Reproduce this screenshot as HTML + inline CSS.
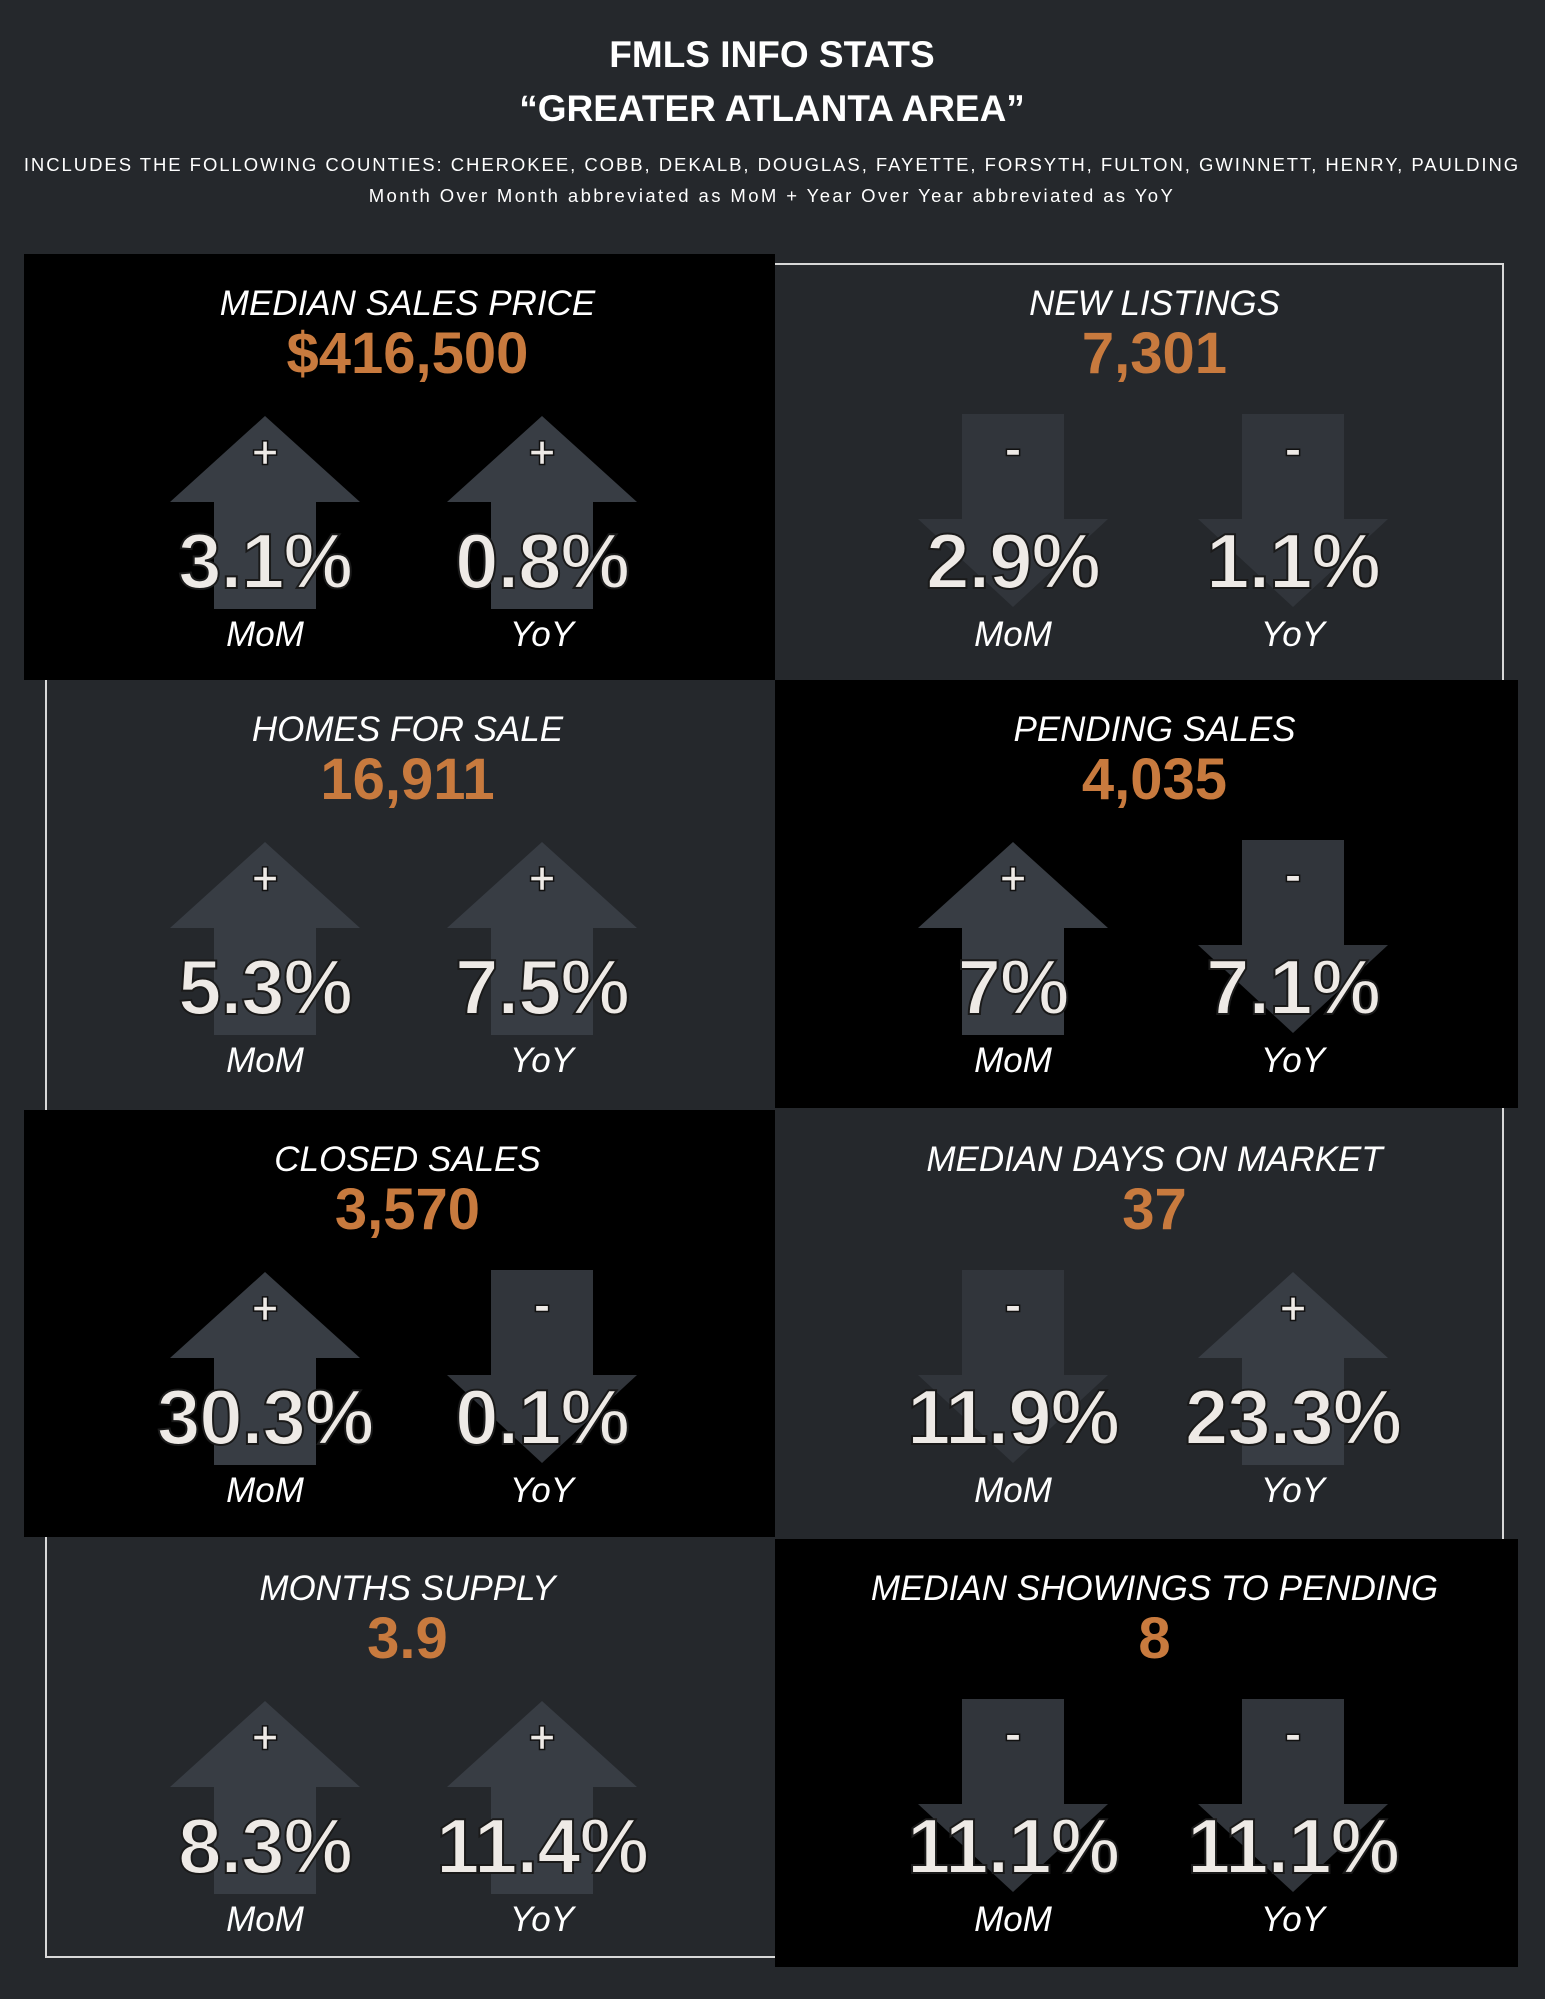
<!DOCTYPE html>
<html><head><meta charset="utf-8"><style>
html,body{margin:0;padding:0;background:#25282c;}
svg{display:block;}
</style></head><body>
<svg id="chart" width="1545" height="1999" viewBox="0 0 1545 1999" xmlns="http://www.w3.org/2000/svg" font-family="Liberation Sans, sans-serif">
<rect x="0" y="0" width="1545" height="1999" fill="#25282c"/>
<text x="772" y="67" text-anchor="middle" fill="#fff" font-weight="bold" font-size="37">FMLS INFO STATS</text>
<text x="772" y="121" text-anchor="middle" fill="#fff" font-weight="bold" font-size="37">“GREATER ATLANTA AREA”</text>
<text x="772" y="171" text-anchor="middle" fill="#fff" font-size="18.5" letter-spacing="1.95">INCLUDES THE FOLLOWING COUNTIES: CHEROKEE, COBB, DEKALB, DOUGLAS, FAYETTE, FORSYTH, FULTON, GWINNETT, HENRY, PAULDING</text>
<text x="772" y="202" text-anchor="middle" fill="#fff" font-size="18.5" letter-spacing="2.4">Month Over Month abbreviated as MoM + Year Over Year abbreviated as YoY</text>
<rect x="46" y="264" width="1457" height="1693" fill="none" stroke="#d8d8d8" stroke-width="2"/>
<g id="panels"></g>
</svg>
<script>
const titles = ["MEDIAN SALES PRICE","NEW LISTINGS","HOMES FOR SALE","PENDING SALES","CLOSED SALES","MEDIAN DAYS ON MARKET","MONTHS SUPPLY","MEDIAN SHOWINGS TO PENDING"];
const values = ["$416,500","7,301","16,911","4,035","3,570","37","3.9","8"];
const momDir = ["up","down","up","up","up","down","up","down"];
const momPct = ["3.1%","2.9%","5.3%","7%","30.3%","11.9%","8.3%","11.1%"];
const yoyDir = ["up","down","up","down","down","up","up","down"];
const yoyPct = ["0.8%","1.1%","7.5%","7.1%","0.1%","23.3%","11.4%","11.1%"];
const blackPanel = [true,false,false,true,true,false,false,true];

const NS="http://www.w3.org/2000/svg";
const g=document.getElementById('panels');
const rowTop=[254,680,1110,1539], rowH=[426,428,427,428];
const colX=[24,775], colW=[751,743];
const arrowCx=[[265,542],[1013,1293]];
function mk(tag,attrs,parent){const e=document.createElementNS(NS,tag);for(const k in attrs)e.setAttribute(k,attrs[k]);(parent||g).appendChild(e);return e;}
function arrow(cx,top,dir,parent){
  let pts;
  if(dir==="up"){pts=[[cx,top+162],[cx+95,top+248],[cx+51,top+248],[cx+51,top+355],[cx-51,top+355],[cx-51,top+248],[cx-95,top+248]];}
  else{pts=[[cx-51,top+160],[cx+51,top+160],[cx+51,top+265],[cx+95,top+265],[cx,top+353],[cx-95,top+265],[cx-51,top+265]];}
  const p=mk('polygon',{points:pts.map(q=>q.join(',')).join(' '),fill:dir==="up"?"#383d44":"#31353b"},parent);
  
  
  const s=mk('text',{x:cx,y:dir==="up"?top+214:top+212,'text-anchor':'middle',fill:'#eeeae6',stroke:'#111','stroke-width':'1.5','font-weight':'bold','font-size':dir==="up"?'46':'52'},parent);
  s.textContent=dir==="up"?"+":"-";
  
  
}
for(let i=0;i<titles.length;i++){
  const r=Math.floor(i/2),c=i%2,top=rowTop[r];
  const grp=mk('g',{});
  
  
  if(blackPanel[i]){
    const b=mk('rect',{x:colX[c],y:top,width:colW[c],height:rowH[r],fill:'#000'},grp);
    
    
  }
  const cx=colX[c]+colW[c]/2+8;
  const t=mk('text',{x:cx,y:top+61,'text-anchor':'middle',fill:'#fff','font-style':'italic','font-size':'35'},grp);
  t.textContent=titles[i];
  
  
  const v=mk('text',{x:cx,y:top+119,'text-anchor':'middle',fill:'#c87a3e','font-weight':'bold','font-size':'58'},grp);
  v.textContent=values[i];
  
  
  const dirs=[momDir[i],yoyDir[i]],pcts=[momPct[i],yoyPct[i]],labs=["MoM","YoY"];
  for(let k=0;k<2;k++){
    const ax=arrowCx[c][k];
    arrow(ax,top,dirs[k],grp);
    const p=mk('text',{x:ax,y:top+334,'text-anchor':'middle',fill:'#eeeae6',stroke:'#1a1a1a','stroke-width':'2','font-weight':'bold','font-size':'78','letter-spacing':'-1'},grp);
    p.textContent=pcts[k];
    
    
    const l=mk('text',{x:ax,y:top+392,'text-anchor':'middle',fill:'#fff','font-style':'italic','font-size':'35'},grp);
    l.textContent=labs[k];
    
    
  }
}
</script>
</body></html>
